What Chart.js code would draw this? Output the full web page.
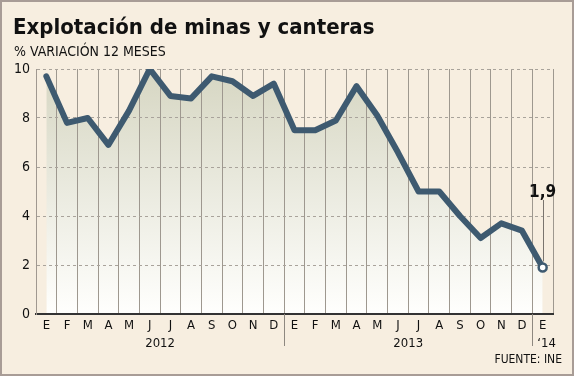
<!DOCTYPE html>
<html><head><meta charset="utf-8">
<script src="https://cdn.jsdelivr.net/npm/chart.js@4/dist/chart.umd.min.js"></script>
<style>
html,body{margin:0;padding:0;background:#f7eee0;}
#wrap{position:relative;width:574px;height:376px;background:#f7eee0;}
#wrap canvas{display:block;}
#frame{position:absolute;left:0;top:0;width:574px;height:376px;box-sizing:border-box;border:2px solid #a89c96;pointer-events:none;}
</style></head><body>
<div id="wrap"><canvas id="c" width="574" height="376"></canvas><div id="frame"></div></div>
<script>
// ---- data ----
const months = ['E','F','M','A','M','J','J','A','S','O','N','D',
                'E','F','M','A','M','J','J','A','S','O','N','D','E'];
const values = [9.7,7.8,8.0,6.9,8.3,10.0,8.9,8.8,9.7,9.5,8.9,9.4,
                7.5,7.5,7.9,9.3,8.1,6.6,5.0,5.0,4.0,3.1,3.7,3.4,1.9];
const yearLabels = ['2012','2013','\u201814'];
const yearStart = [0,12,24];
const yearEnd = [11,23,24];
const yTicks = [0,2,4,6,8,10];
const titleText = 'Explotación de minas y canteras';
const subtitleText = '% VARIACIÓN 12 MESES';
const sourceText = 'FUENTE: INE';
const lastLabel = '1,9';

const FONT = "'DejaVu Sans Condensed','DejaVu Sans',sans-serif";
const LINE = '#3e5a70';

const extras = {
  id: 'extras',
  afterDraw(chart) {
    const ctx = chart.ctx, x = chart.scales.x, a = chart.chartArea;
    ctx.save();
    ctx.fillStyle = '#111';
    ctx.textBaseline = 'alphabetic';
    ctx.textAlign = 'left';
    ctx.font = "bold 22px " + FONT;
    ctx.fillText(titleText, 13, 34);
    ctx.font = "14px " + FONT;
    ctx.fillText(subtitleText, 14, 56);
    // year separators
    ctx.strokeStyle = '#8e8880';
    ctx.lineWidth = 1;
    for (let i = 1; i < yearStart.length; i++) {
      const bx = Math.round((x.getPixelForValue(yearStart[i]-1) + x.getPixelForValue(yearStart[i]))/2) + 0.5;
      ctx.beginPath(); ctx.moveTo(bx, a.bottom); ctx.lineTo(bx, 346); ctx.stroke();
    }
    // year labels
    ctx.font = "13px " + FONT;
    for (let i = 0; i < yearLabels.length; i++) {
      if (yearStart[i] === yearEnd[i]) {
        const bx = (x.getPixelForValue(yearStart[i]-1) + x.getPixelForValue(yearStart[i]))/2;
        ctx.textAlign = 'left';
        ctx.fillText(yearLabels[i], bx + 5, 347);
      } else {
        const cx = (x.getPixelForValue(yearStart[i]) + x.getPixelForValue(yearEnd[i]))/2;
        ctx.textAlign = 'center';
        ctx.fillText(yearLabels[i], cx, 347);
      }
    }
    ctx.font = "12px " + FONT;
    ctx.textAlign = 'right';
    ctx.fillText(sourceText, 562, 363);
    // last value annotation
    const meta = chart.getDatasetMeta(0);
    const p = meta.data[meta.data.length-1];
    ctx.strokeStyle = '#7a746e';
    ctx.beginPath(); ctx.moveTo(Math.round(p.x)+0.5, 200); ctx.lineTo(Math.round(p.x)+0.5, p.y-6); ctx.stroke();
    ctx.font = "bold 17px " + FONT;
    ctx.textAlign = 'center';
    ctx.fillStyle = '#111';
    ctx.fillText(lastLabel, p.x, 197);
    ctx.restore();
  }
};

new Chart(document.getElementById('c'), {
  type: 'line',
  data: {
    labels: months,
    datasets: [{
      data: values,
      borderColor: LINE,
      borderWidth: 6,
      borderJoinStyle: 'round',
      borderCapStyle: 'round',
      tension: 0,
      fill: 'origin',
      backgroundColor(ctx) {
        const a = ctx.chart.chartArea;
        if (!a) return 'rgba(220,220,204,1)';
        const g = ctx.chart.ctx.createLinearGradient(0, a.top, 0, a.bottom);
        g.addColorStop(0, 'rgb(214,214,194)');
        g.addColorStop(1, 'rgb(255,255,253)');
        return g;
      },
      pointRadius: ctx => ctx.dataIndex === values.length-1 ? 4 : 0,
      pointBackgroundColor: '#ffffff',
      pointBorderColor: LINE,
      pointBorderWidth: 2.5
    }]
  },
  options: {
    responsive: false,
    animation: false,
    devicePixelRatio: 1,
    layout: { padding: { top: 69, left: 14, right: 21, bottom: 42 } },
    plugins: {
      legend: { display: false },
      tooltip: { enabled: false },
      filler: { drawTime: 'beforeDraw' }
    },
    scales: {
      x: {
        offset: true,
        grid: { offset: true, color: '#9e988f', lineWidth: 1, drawTicks: false },
        border: { display: true, color: '#333333', width: 2 },
        ticks: { color: '#111', font: { family: FONT, size: 13 }, padding: 4, maxRotation: 0, autoSkip: false },
        afterFit(s) { s.height = 20; }
      },
      y: {
        min: 0, max: 10,
        afterBuildTicks(s) { s.ticks = yTicks.map(v => ({ value: v })); },
        grid: { color: '#a9a39b', lineWidth: 1, drawTicks: false },
        border: { display: true, color: '#a09890', width: 1, dash: [3,3] },
        ticks: { color: '#111', font: { family: FONT, size: 14 }, padding: 6 },
        afterFit(s) { s.width = 22; }
      }
    }
  },
  plugins: [extras]
});
</script>
</body></html>
